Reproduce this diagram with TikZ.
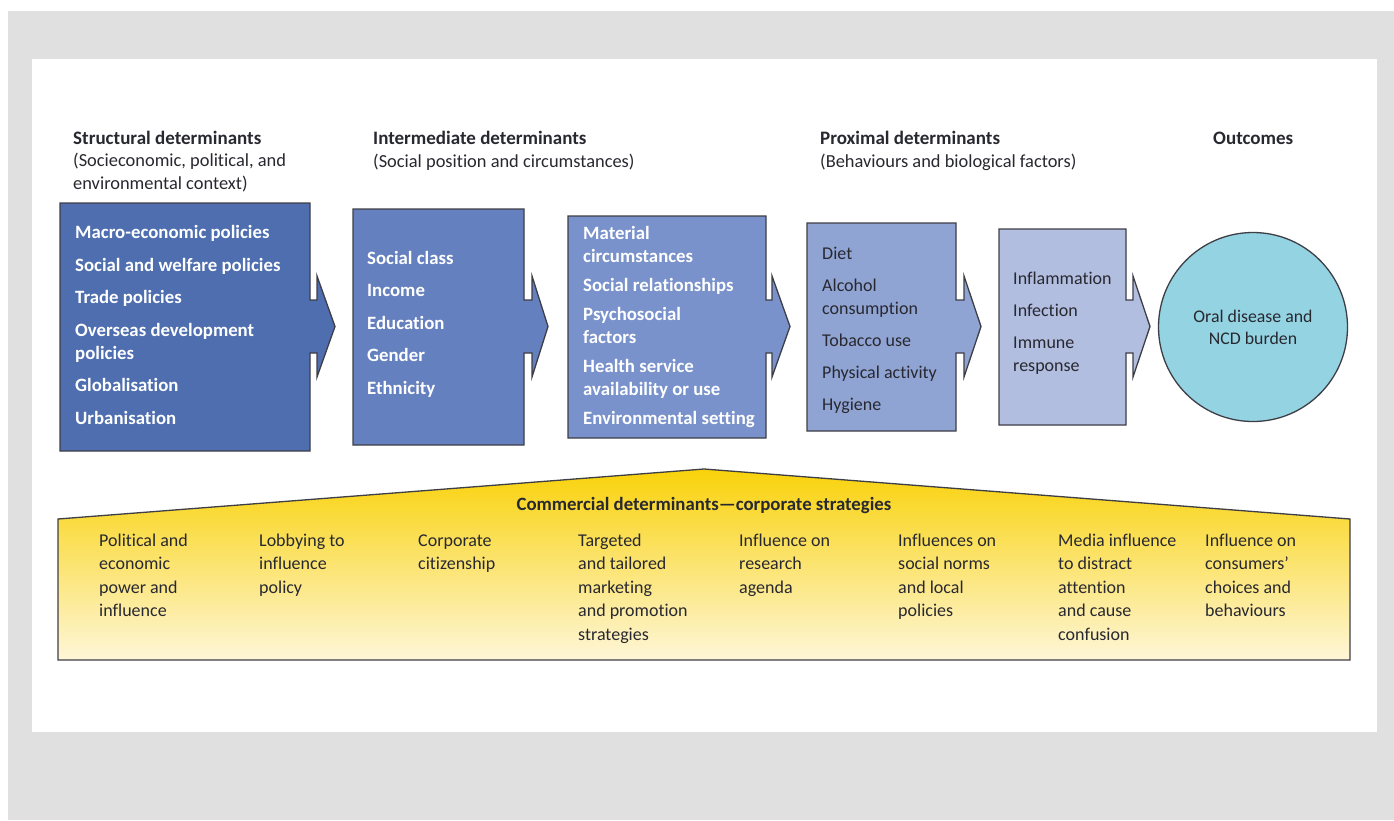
\documentclass[tikz,border=0pt]{standalone}
\usepackage{fontspec}
\setmainfont{Carlito}[Ligatures={TeX,NoCommon}]
\usepackage{xcolor}

\definecolor{panelgray}{HTML}{E0E0E0}
\definecolor{structblue}{RGB}{78,110,176}
\definecolor{interblue}{RGB}{101,128,191}
\definecolor{circblue}{RGB}{121,146,203}
\definecolor{proxblue}{RGB}{144,164,212}
\definecolor{bioblue}{RGB}{178,190,224}
\definecolor{outcyan}{RGB}{148,211,226}
\definecolor{edgegray}{RGB}{62,62,70}
\definecolor{inktext}{RGB}{40,40,48}
\definecolor{corpyellow}{RGB}{249,210,10}
\definecolor{corppale}{RGB}{254,246,216}

\begin{document}
\begin{tikzpicture}[x=1pt, y=-1pt]
    % Define styles
    \tikzstyle{flowbox} = [draw=edgegray, line width=1.3pt, line join=miter]
    \tikzstyle{heading} = [anchor=base west, inner sep=0pt, align=left, text=inktext, font=\fontsize{18.4}{22.5}\selectfont]
    \tikzstyle{lightlist} = [anchor=base west, inner sep=0pt, align=left, text=white, font=\bfseries\fontsize{18.8}{23}\selectfont]
    \tikzstyle{darklist} = [anchor=base west, inner sep=0pt, align=left, text=inktext, font=\fontsize{18}{23}\selectfont]
    \tikzstyle{strategy} = [anchor=base west, inner sep=0pt, align=left, text=inktext, font=\fontsize{18}{23.5}\selectfont]

    % Background panel
    \useasboundingbox (0,0) rectangle (1394,820);
    \fill[panelgray] (8,11) rectangle (1394,820);
    \fill[white] (32,59) rectangle (1377,732);

    % Column headings (anchored at the baseline of their last line)
    \node [heading] (structhead) at (73,189) {{\bfseries\fontsize{19}{22.5}\selectfont Structural determinants}\\(Socieconomic, political, and\\environmental context)};
    \node [heading] (interhead) at (373,167) {{\bfseries\fontsize{19}{22.5}\selectfont Intermediate determinants}\\(Social position and circumstances)};
    \node [heading] (proxhead) at (820,167) {{\bfseries\fontsize{19}{22.5}\selectfont Proximal determinants}\\(Behaviours and biological factors)};
    \node [heading] (outhead) at (1213,144) {\bfseries\fontsize{19}{22.5}\selectfont Outcomes};

    % Main flow boxes with their arrows
    \draw [flowbox, fill=structblue] (60,203) -- (310,203) -- (310,300) -- (317,300) -- (317,276) -- (335,326.5) -- (317,377) -- (317,353) -- (310,353) -- (310,451) -- (60,451) -- cycle;
    \draw [flowbox, fill=interblue] (353,209) -- (524,209) -- (524,300) -- (532,300) -- (532,276) -- (548,326.5) -- (532,377) -- (532,353) -- (524,353) -- (524,445) -- (353,445) -- cycle;
    \draw [flowbox, fill=circblue] (568,216) -- (766,216) -- (766,300) -- (772,300) -- (772,276) -- (790,326.5) -- (772,377) -- (772,353) -- (766,353) -- (766,438) -- (568,438) -- cycle;
    \draw [flowbox, fill=proxblue] (807,223) -- (956,223) -- (956,300) -- (964,300) -- (964,276) -- (981,326.5) -- (964,377) -- (964,353) -- (956,353) -- (956,431) -- (807,431) -- cycle;
    \draw [flowbox, fill=bioblue] (999,229) -- (1126,229) -- (1126,300) -- (1133,300) -- (1133,276) -- (1150,326.5) -- (1133,377) -- (1133,353) -- (1126,353) -- (1126,425) -- (999,425) -- cycle;
    \node [circle, draw=edgegray, line width=1.3pt, fill=outcyan, minimum size=189pt, inner sep=0pt, align=center, text=inktext, font=\fontsize{17.8}{22}\selectfont] (outcome) at (1253,327) {Oral disease and\\NCD burden};

    % Box contents
    \node [lightlist] (structlist) at (75,424) {Macro-economic policies\\[9.5pt]Social and welfare policies\\[9.5pt]Trade policies\\[9.5pt]Overseas development\\policies\\[9.5pt]Globalisation\\[9.5pt]Urbanisation};
    \node [lightlist] (interlist) at (367,394) {Social class\\[9.5pt]Income\\[9.5pt]Education\\[9.5pt]Gender\\[9.5pt]Ethnicity};
    \node [lightlist] (circlist) at (583,424) {Material\\circumstances\\[6pt]Social relationships\\[6pt]Psychosocial\\factors\\[6pt]Health service\\availability or use\\[6pt]Environmental setting};
    \node [darklist] (proxlist) at (822,410) {Diet\\[9pt]Alcohol\\consumption\\[9pt]Tobacco use\\[9pt]Physical activity\\[9pt]Hygiene};
    \node [darklist] (biolist) at (1013,371) {Inflammation\\[9pt]Infection\\[9pt]Immune\\response};

    % Commercial determinants band
    \draw [flowbox, top color=corpyellow, bottom color=corppale] (58,660) -- (58,519) -- (704,469) -- (1350,519) -- (1350,660) -- cycle;
    \node [anchor=base, inner sep=0pt, text=inktext, font=\bfseries\fontsize{18.8}{20}\selectfont] (corptitle) at (704,510) {Commercial determinants—corporate strategies};
    \node [strategy] (power) at (99,616.5) {Political and\\economic\\power and\\influence};
    \node [strategy] (lobby) at (259,593) {Lobbying to\\influence\\policy};
    \node [strategy] (citizen) at (418,569.5) {Corporate\\citizenship};
    \node [strategy] (market) at (578,640) {Targeted\\and tailored\\marketing\\and promotion\\strategies};
    \node [strategy] (research) at (739,593) {Influence on\\research\\agenda};
    \node [strategy] (norms) at (898,616.5) {Influences on\\social norms\\and local\\policies};
    \node [strategy] (media) at (1058,640) {Media influence\\to distract\\attention\\and cause\\confusion};
    \node [strategy] (consumer) at (1205,616.5) {Influence on\\consumers’\\choices and\\behaviours};
\end{tikzpicture}
\end{document}
